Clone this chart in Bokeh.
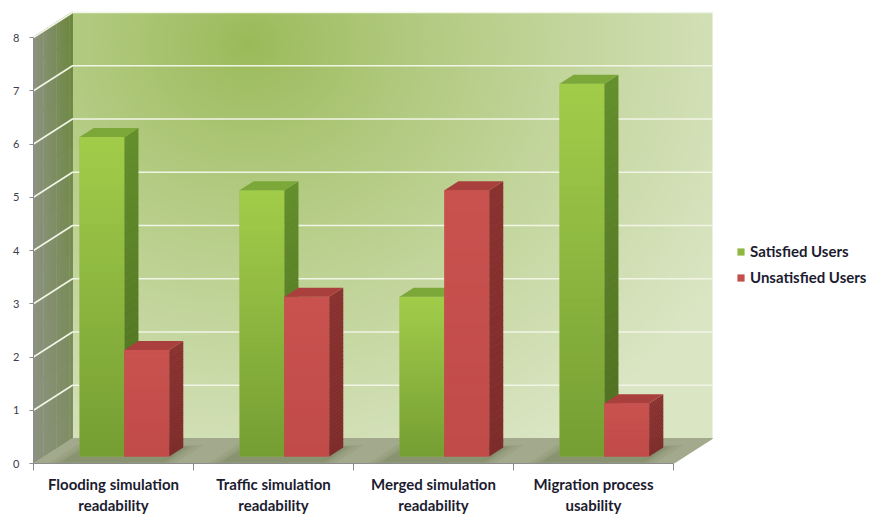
import numpy as np
from bokeh.plotting import figure
from bokeh.models import Range1d, LinearAxis, FixedTicker, Legend, LegendItem
from bokeh.embed import file_html
from bokeh.resources import INLINE

# ---- data -------------------------------------------------------------
categories = [
    "Flooding simulation\nreadability",
    "Traffic simulation\nreadability",
    "Merged simulation\nreadability",
    "Migration process\nusability",
]
series_names = ["Satisfied Users", "Unsatisfied Users"]
satisfied = [6, 5, 3, 7]
unsatisfied = [2, 3, 5, 1]
y_ticks = [0, 1, 2, 3, 4, 5, 6, 7, 8]

# ---- layout / projection ---------------------------------------------
W, H = 870, 518
B_LEFT, B_BOTTOM, B_TOP = 33, 55, 10
PX_PER_CAT = 160.0
PX_PER_UNIT = 53.25
X0 = 0.5                        # left edge of the category band
NCAT = len(categories)
YMAX = y_ticks[-1]
DX = 39 / PX_PER_CAT            # oblique depth offset (data units)
DY = 25 / PX_PER_UNIT
D_FRONT, D_BACK = 0.28, 0.64    # bar depth slot within the box
BAR_W = 0.28


def hex2rgb(h):
    h = h.lstrip("#")
    return np.array([int(h[i:i + 2], 16) for i in (0, 2, 4)], dtype=float)


def rgb2hex(c):
    c = np.clip(np.round(c), 0, 255).astype(int)
    return "#%02x%02x%02x" % tuple(c)


def lerp(a, b, t):
    return rgb2hex(hex2rgb(a) + (hex2rgb(b) - hex2rgb(a)) * t)


p = figure(
    width=W, height=H,
    x_range=Range1d(X0, X0 + (W - B_LEFT) / PX_PER_CAT),
    y_range=Range1d(0, (H - B_BOTTOM - B_TOP) / PX_PER_UNIT),
    min_border_left=B_LEFT, min_border_bottom=B_BOTTOM,
    min_border_top=B_TOP, min_border_right=0,
    x_axis_type=None, y_axis_type=None,
    output_backend="svg", toolbar_location=None,
)
p.outline_line_color = None
p.background_fill_color = "white"
p.border_fill_color = "white"

# ---- back wall (gradient image) --------------------------------------
nx, ny = 320, 214
U, T = np.meshgrid(np.linspace(0, 1, nx), np.linspace(0, 1, ny))
wx = U * 637.0
wy = (1 - T) * 426.0
r = np.sqrt((wx - 175) ** 2 + ((wy - 30) * 1.15) ** 2)
f = np.clip(r / 540.0, 0, 1) ** 0.85
c_dark = hex2rgb("#9aba58")
c_pale = hex2rgb("#dae5c3")
rgb = c_dark[None, None, :] + (c_pale - c_dark)[None, None, :] * f[..., None]
img = np.empty((ny, nx), dtype=np.uint32)
view = img.view(dtype=np.uint8).reshape((ny, nx, 4))
view[..., 0] = rgb[..., 0].astype(np.uint8)
view[..., 1] = rgb[..., 1].astype(np.uint8)
view[..., 2] = rgb[..., 2].astype(np.uint8)
view[..., 3] = 255
p.image_rgba(image=[img], x=X0 + DX, y=DY, dw=NCAT, dh=YMAX)

# ---- left side wall (shaded cells) -----------------------------------
sx, sy, sc = [], [], []
NS_X, NS_Y = 12, 16
for a in range(NS_X):
    ua, ub = a / NS_X, (a + 1) / NS_X
    for b in range(NS_Y):
        va, vb = YMAX * b / NS_Y, YMAX * (b + 1) / NS_Y
        sx.append([X0 + ua * DX, X0 + ub * DX + 0.003, X0 + ub * DX + 0.003, X0 + ua * DX])
        sy.append([va + ua * DY, va + ub * DY, vb + ub * DY + 0.02, vb + ua * DY + 0.02])
        hv = (b + 0.5) / NS_Y
        hu = (a + 0.5) / NS_X
        sc.append(lerp("#8c9280", "#6a873a", hu * (0.4 + 0.6 * hv)))
p.patches(sx, sy, fill_color=sc, line_color=None)

# ---- floor -------------------------------------------------------------
p.patch([X0, X0 + NCAT, X0 + NCAT + DX, X0 + DX], [0, 0, DY, DY],
        fill_color="#a2a98c", line_color="#a2a98c")

# ---- grid lines on the walls ------------------------------------------
gx, gy = [], []
for v in y_ticks[1:]:
    gx.append([X0, X0 + DX, X0 + NCAT + DX])
    gy.append([v, v + DY, v + DY])
p.multi_line(gx, gy, line_color="#f1f5e6", line_width=1.6)

# ---- soft shadows on the floor ----------------------------------------
for grow, alpha in [(0.10, 0.06), (0.06, 0.08), (0.03, 0.12)]:
    shx, shy = [], []
    for i in range(NCAT):
        c = i + 1
        xa, xb = c - BAR_W - grow - 0.03, c + BAR_W + grow
        da, db = max(D_FRONT - 0.2 - grow, 0.02), min(D_BACK + grow, 0.98)
        shx.append([xa + da * DX, xb + da * DX, xb + db * DX, xa + db * DX])
        shy.append([da * DY, da * DY, db * DY, db * DY])
    p.patches(shx, shy, fill_color="#3d4a22", fill_alpha=alpha, line_color=None)

# ---- 3-D bars ------------------------------------------------------------
styles = [
    dict(front_top="#a2cd4a", front_bot="#759e33", side_top="#638f2c",
         side_bot="#4e6e20", top="#7ca83a", base="#8fb842"),
    dict(front_top="#c9524f", front_bot="#c04b48", side_top="#8a3230",
         side_bot="#7e2c2b", top="#a9403d", base="#c44f4c"),
]
legend_items = []
NSTRIP = 40
sdx = (D_BACK - D_FRONT) * DX
sdy = (D_BACK - D_FRONT) * DY
fdx, fdy = D_FRONT * DX, D_FRONT * DY

for s, values in enumerate([satisfied, unsatisfied]):
    st = styles[s]
    lefts = [i + 1 - BAR_W + s * BAR_W + fdx for i in range(NCAT)]
    rights = [l + BAR_W for l in lefts]
    bottoms = [fdy] * NCAT
    tops = [fdy + v for v in values]
    base = p.quad(left=lefts, right=rights, bottom=bottoms, top=tops,
                  fill_color=st["base"], line_color=None)
    legend_items.append(LegendItem(label=series_names[s], renderers=[base]))

    # vertical gradient on the front and side faces
    ql, qr, qb, qt, qc = [], [], [], [], []
    px_, py_, pc = [], [], []
    for l, rr, v in zip(lefts, rights, values):
        for k in range(NSTRIP):
            a, b = k / NSTRIP, (k + 1) / NSTRIP
            t = (k + 0.5) / NSTRIP
            ya = fdy + v * a
            yb = fdy + v * b + (0.01 if k < NSTRIP - 1 else 0)
            ql.append(l); qr.append(rr); qb.append(ya); qt.append(yb)
            qc.append(lerp(st["front_bot"], st["front_top"], t))
            px_.append([rr, rr + sdx, rr + sdx, rr])
            py_.append([ya, ya + sdy, yb + sdy, yb])
            pc.append(lerp(st["side_bot"], st["side_top"], t))
    p.quad(left=ql, right=qr, bottom=qb, top=qt, fill_color=qc, line_color=None)
    p.patches(px_, py_, fill_color=pc, line_color=None)

    # top faces
    tx, ty = [], []
    for l, rr, v in zip(lefts, rights, values):
        yt = fdy + v
        tx.append([l, rr, rr + sdx, l + sdx])
        ty.append([yt, yt, yt + sdy, yt + sdy])
    p.patches(tx, ty, fill_color=st["top"], line_color=None)

# ---- axes ----------------------------------------------------------------
yax = LinearAxis(
    ticker=FixedTicker(ticks=y_ticks), bounds=(0, YMAX),
    axis_line_color="#8c8c8c", axis_line_width=1,
    major_tick_line_color="#8c8c8c", major_tick_in=0, major_tick_out=4,
    minor_tick_line_color=None,
    major_label_text_font="Lato", major_label_text_font_size="11px",
    major_label_text_color="#3c3c4a", major_label_standoff=10,
)
p.add_layout(yax, "left")

centers = [i + 1 for i in range(NCAT)]
bounds_ticks = [X0 + i for i in range(NCAT + 1)]
xax = LinearAxis(
    ticker=FixedTicker(ticks=centers, minor_ticks=bounds_ticks),
    bounds=(X0, X0 + NCAT),
    major_label_overrides={c: lab for c, lab in zip(centers, categories)},
    axis_line_color="#8c8c8c", axis_line_width=1,
    major_tick_line_color=None,
    minor_tick_line_color="#8c8c8c", minor_tick_in=0, minor_tick_out=7,
    major_label_text_font="Lato", major_label_text_font_style="bold",
    major_label_text_font_size="15px", major_label_text_color="#1c1c30",
    major_label_standoff=4, major_label_text_align="center",
)
p.add_layout(xax, "below")

# ---- legend ----------------------------------------------------------
legend = Legend(
    items=legend_items, location=(703, 177), orientation="vertical",
    glyph_width=9, glyph_height=9, label_standoff=5, spacing=8,
    label_height=18, padding=0, margin=0,
    border_line_color=None, background_fill_alpha=0,
    label_text_font="Lato", label_text_font_style="bold",
    label_text_font_size="15px", label_text_color="#1c1c30",
)
p.add_layout(legend, "center")

open("out.html", "w").write(file_html(p, INLINE))
